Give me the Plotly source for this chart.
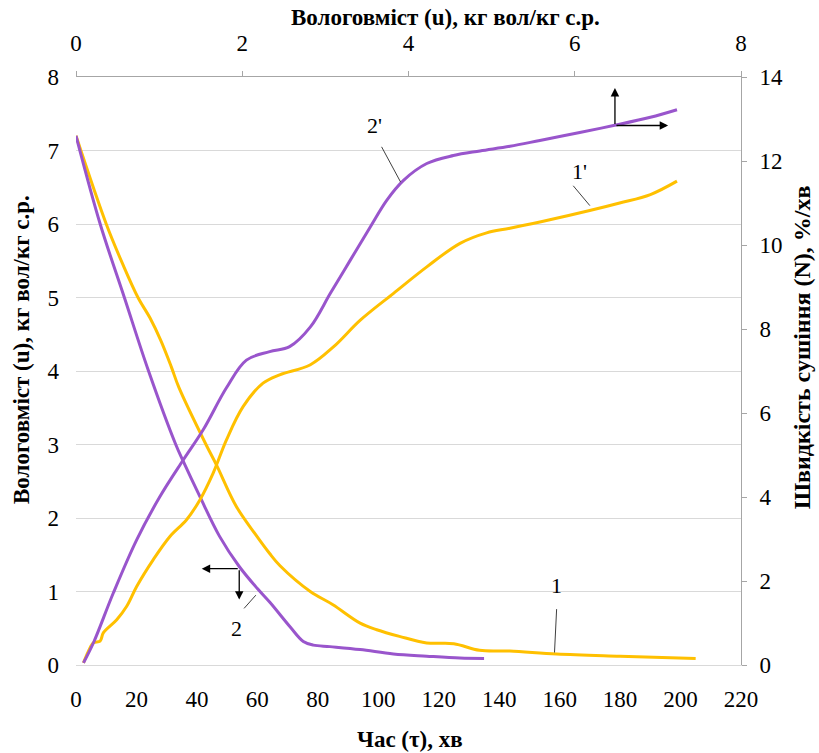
import plotly.graph_objects as go

# Curves 1, 2: moisture content u (kg/kg) vs drying time tau (min)
tau_1 = [0, 10, 15.5, 20.5, 24.5, 28, 31.5, 34, 43, 46.5, 53, 59.5, 64, 67.5, 77.5, 85, 94, 99.5,
         107, 116, 125, 133.5, 143.5, 159, 180, 205]
u_1 = [7.2, 6.0, 5.45, 5.0, 4.72, 4.42, 4.06, 3.78, 3.0, 2.72, 2.16, 1.77, 1.52, 1.35, 1.0, 0.82, 0.57, 0.48,
       0.39, 0.30, 0.29, 0.20, 0.19, 0.15, 0.12, 0.09]
tau_2 = [0, 8, 16, 24, 33, 35.5, 41, 47.5, 54, 60, 64.2, 70.8, 75.2, 78.5, 84, 94, 105, 116, 127, 135]
u_2 = [7.2, 6.0, 5.0, 4.0, 3.0, 2.77, 2.29, 1.75, 1.34, 1.04, 0.85, 0.52, 0.32, 0.27, 0.25, 0.21, 0.15, 0.12,
       0.095, 0.09]

# Curves 1', 2': drying rate N (%/min) vs moisture content u
u_1p = [0.09, 0.15, 0.21, 0.29, 0.33, 0.49, 0.61, 0.73, 0.93, 1.13, 1.33, 1.49, 1.65, 1.81, 2.01, 2.25,
        2.45, 2.82, 3.10, 3.42, 3.82, 4.22, 4.62, 4.94, 5.22, 5.70, 6.18, 6.54, 6.91, 7.23]
N_1p = [0.05, 0.33, 0.53, 0.57, 0.77, 1.08, 1.40, 1.87, 2.51, 3.06, 3.46, 3.93, 4.57, 5.36, 6.15, 6.71,
        6.91, 7.15, 7.58, 8.21, 8.85, 9.48, 10.04, 10.29, 10.40, 10.60, 10.82, 11.00, 11.20, 11.52]
u_2p = [0.09, 0.21, 0.45, 0.73, 1.01, 1.29, 1.53, 1.81, 2.05, 2.33, 2.57, 2.82, 3.06, 3.30, 3.54, 3.74,
        3.94, 4.22, 4.54, 4.86, 5.22, 5.58, 6.06, 6.48, 6.91, 7.23]
N_2p = [0.05, 0.53, 1.72, 2.98, 4.01, 4.88, 5.60, 6.60, 7.26, 7.46, 7.58, 8.05, 8.85, 9.64, 10.43, 11.07,
        11.54, 11.94, 12.13, 12.24, 12.35, 12.49, 12.68, 12.85, 13.04, 13.22]

YELLOW = "#FFC000"
PURPLE = "#9955CC"
FONT = "Liberation Serif"

fig = go.Figure()
fig.add_trace(go.Scatter(x=tau_1, y=u_1, mode="lines", line=dict(color=YELLOW, width=3, shape="spline"),
                         xaxis="x", yaxis="y", name="1"))
fig.add_trace(go.Scatter(x=tau_2, y=u_2, mode="lines", line=dict(color=PURPLE, width=3, shape="spline"),
                         xaxis="x", yaxis="y", name="2"))
fig.add_trace(go.Scatter(x=u_1p, y=N_1p, mode="lines", line=dict(color=YELLOW, width=3, shape="spline"),
                         xaxis="x2", yaxis="y2", name="1'"))
fig.add_trace(go.Scatter(x=u_2p, y=N_2p, mode="lines", line=dict(color=PURPLE, width=3, shape="spline"),
                         xaxis="x2", yaxis="y2", name="2'"))

tickfont = dict(family=FONT, size=23, color="black")
fig.update_layout(
    width=819, height=753,
    margin=dict(l=76, r=78, t=77, b=88),
    paper_bgcolor="white", plot_bgcolor="white",
    showlegend=False,
    font=dict(family=FONT, color="black"),
    xaxis=dict(range=[0, 220], dtick=20, tick0=0, showgrid=False, zeroline=False,
               showline=True, linecolor="#D9D9D9", linewidth=1, ticks="",
               tickfont=tickfont, ticklabelstandoff=13),
    yaxis=dict(range=[0, 8], dtick=1, tick0=0, showgrid=True, gridcolor="#D9D9D9", gridwidth=1,
               zeroline=False, showline=False, ticks="", tickfont=tickfont, ticklabelstandoff=16),
    xaxis2=dict(range=[0, 8], dtick=2, tick0=0, overlaying="x", side="top", anchor="y",
                showgrid=False, zeroline=False, showline=True, linecolor="#A6A6A6", linewidth=1,
                ticks="outside", ticklen=5, tickcolor="#A6A6A6", tickfont=tickfont, ticklabelstandoff=11),
    yaxis2=dict(range=[0, 14], dtick=2, tick0=0, overlaying="y", side="right", anchor="x",
                showgrid=False, zeroline=False, showline=True, linecolor="#A6A6A6", linewidth=1,
                ticks="outside", ticklen=5, tickcolor="#A6A6A6", tickfont=tickfont, ticklabelstandoff=8),
)

titlefont = dict(family=FONT, size=23, color="black", weight="bold")
ann = [
    dict(text="<b>Час (τ), хв</b>", xref="paper", yref="paper", x=0.503, y=-0.127,
         showarrow=False, font=titlefont, xanchor="center", yanchor="middle"),
    dict(text="<b>Вологовміст (u), кг вол/кг с.р.</b>", xref="paper", yref="paper", x=0.556, y=1.101,
         showarrow=False, font=titlefont, xanchor="center", yanchor="middle"),
    dict(text="<b>Вологовміст (u), кг вол/кг с.р.</b>", xref="paper", yref="paper", x=-0.081, y=0.536,
         showarrow=False, font=titlefont, textangle=-90, xanchor="center", yanchor="middle"),
    dict(text="<b>Швидкість сушіння (N), %/хв</b>", xref="paper", yref="paper", x=1.093, y=0.54,
         showarrow=False, font=dict(family=FONT, size=24, color="black", weight="bold"),
         textangle=-90, xanchor="center", yanchor="middle"),
]
labfont = dict(family=FONT, size=22, color="black")
for txt, tx, uy in [("2'", 98.9, 7.34), ("1'", 166.7, 6.72), ("1", 158.8, 1.08), ("2", 53.2, 0.49)]:
    ann.append(dict(text=txt, xref="x", yref="y", x=tx, y=uy, showarrow=False, font=labfont,
                    xanchor="center", yanchor="middle"))
# axis-indicating arrows
for (hx, hy, tx, ty) in [(41.6, 1.31, 54.0, 1.31), (54.0, 0.89, 54.0, 1.31),
                         (178.3, 7.85, 178.3, 7.34), (195.9, 7.34, 178.3, 7.34)]:
    ann.append(dict(text="", xref="x", yref="y", x=hx, y=hy, axref="x", ayref="y", ax=tx, ay=ty,
                    showarrow=True, arrowhead=2, arrowsize=1.3, arrowwidth=1.3, arrowcolor="black"))
fig.update_layout(annotations=ann)

# leader lines for the curve labels
for (x0, y0, x1, y1) in [(101.1, 7.05, 107.4, 6.57), (164.5, 6.52, 170.0, 6.25),
                         (159.0, 0.76, 158.3, 0.17), (55.6, 0.77, 59.5, 0.95)]:
    fig.add_shape(type="line", xref="x", yref="y", x0=x0, y0=y0, x1=x1, y1=y1,
                  line=dict(color="#404040", width=1))

fig.write_html("out.html")
